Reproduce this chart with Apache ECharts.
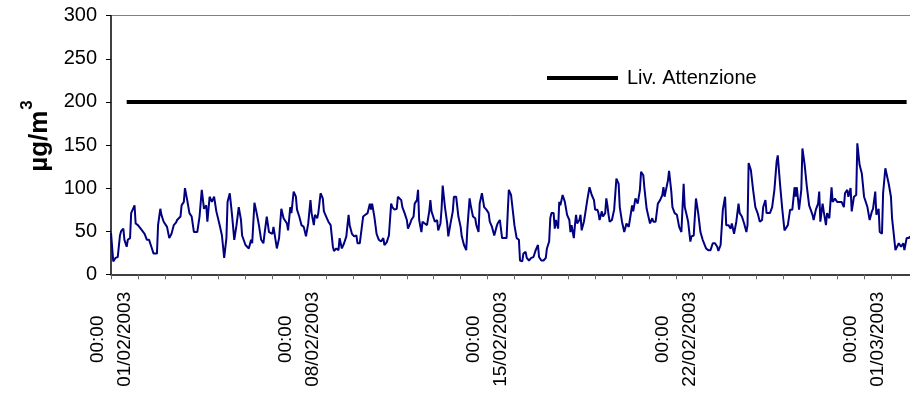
<!DOCTYPE html>
<html>
<head>
<meta charset="utf-8">
<script src="https://cdn.jsdelivr.net/npm/echarts@6/dist/echarts.min.js"></script>
<style>html,body{margin:0;padding:0;background:#fff;}#c{width:910px;height:408px;}</style>
</head>
<body>
<div id="c"></div>
<script>
// hours elapsed since 01/02/2003 00:00
var hours = [0,2,4,6,7,8,9,11,12,14,15,17,18,21,22,24,27,30,32,34,36,38,41,42,44,45,47,50,52,54,56,58,59,62,63,65,66,68,70,72,74,77,79,81,83,85,86,88,90,92,94,97,99,101,103,104,106,108,110,112,114,116,117,120,123,125,126,128,130,132,134,136,137,139,141,144,
145,146,148,150,152,154,155,157,158,160,161,163,165,166,168,170,172,174,176,178,179,181,182,184,185,187,189,190,192,194,196,198,199,201,203,204,206,208,210,212,213,215,217,219,220,222,225,227,229,231,232,233,235,237,239,241,243,244,246,248,250,251,253,255,256,259,260,262,264,265,267,268,270,271,273,274,275,277,278,280,282,284,285,
286,288,289,291,292,294,295,296,298,300,301,303,305,306,308,310,312,313,315,317,318,320,321,323,325,326,328,329,331,333,335,337,338,340,342,344,345,347,349,351,353,354,355,357,359,360,362,364,365,367,368,370,371,373,375,377,379,381,382,384,386,388,389,391,392,393,395,396,397,399,400,401,403,405,406,407,409,410,411,413,414,415,416,418,419,420,422,423,425,427,429,
431,432,434,435,436,438,439,441,442,443,444,445,447,449,451,453,454,456,458,460,462,463,465,466,468,470,472,473,475,476,478,481,483,484,486,488,490,492,493,494,497,498,500,501,503,505,507,509,511,512,514,515,517,518,520,522,524,526,528,529,531,533,535,537,539,541,542,544,546,548,549,551,553,554,556,558,559,560,561,563,565,567,568,569,571,
572,573,575,577,579,581,582,584,585,588,590,592,594,595,597,599,601,602,604,606,608,610,611,612,614,616,617,619,621,623,624,626,627,629,631,632,633,635,636,638,639,641,643,644,646,648,650,652,654,655,657,658,660,661,663,665,666,668,670,672,673,675,677,679,680,682,683,685,686,688,689,691,692,694,696,697,698,700,701,703,705,707,708,710,712,713];
var values = [48,15,19,20,22,45,50,53,40,32,40,42,71,80,59,57,52,47,40,40,32,24,24,57,76,69,61,55,42,47,57,60,63,67,80,84,100,86,71,67,49,49,67,98,76,80,61,90,84,90,73,57,45,19,42,84,94,69,40,57,78,63,45,34,30,40,36,83,71,57,40,36,47,67,49,47,
55,57,30,42,76,65,67,59,51,78,71,96,90,75,67,57,55,44,59,86,71,57,69,65,71,94,88,73,67,61,57,32,27,30,28,42,30,36,44,69,57,47,44,45,36,36,67,69,71,82,75,82,67,47,40,38,42,34,37,45,82,78,75,76,90,86,78,71,63,53,59,63,67,82,86,98,63,49,61,59,57,73,86,
73,65,61,63,51,59,76,103,78,59,44,59,73,90,90,67,55,44,34,28,53,88,80,67,65,57,49,82,94,78,75,71,61,55,45,55,59,63,42,42,42,71,98,92,69,57,42,40,16,15,24,26,19,16,19,20,28,34,20,16,16,19,30,38,65,71,71,53,63,53,84,80,92,84,82,69,63,49,57,42,57,69,59,63,69,51,61,69,86,101,92,
86,75,75,71,63,73,67,71,88,80,69,61,63,75,111,105,78,61,49,59,55,63,80,73,88,82,98,119,115,100,76,59,65,61,61,82,86,92,101,90,109,120,96,78,71,69,55,49,105,78,67,61,38,44,45,88,71,49,40,40,30,28,28,36,36,32,27,34,75,90,57,57,53,59,47,61,63,82,71,67,59,49,57,129,121,
123,98,78,71,61,63,78,86,71,71,78,98,131,138,105,76,51,49,57,75,75,101,90,101,75,98,146,127,101,80,82,69,63,75,82,96,61,82,73,57,71,65,101,84,88,84,84,84,78,94,98,90,100,73,90,92,152,127,117,90,90,78,63,73,76,96,69,76,49,47,94,123,121,105,90,65,53,28,28,36,32,36,28,42,42,44];
// attention level line
var limitHours = [14, 710];
var limitValues = [200, 200];
// axis labels
var tickLabels = ['00:00\n01/02/2003','00:00\n08/02/2003','00:00\n15/02/2003','00:00\n22/02/2003','00:00\n01/03/2003'];
var yTicks = [0,50,100,150,200,250,300];
var seriesName = 'NO2';
var limitName = 'Liv. Attenzione';

var mainData = hours.map(function(h,i){return [h, values[i]];});
var limitData = limitHours.map(function(h,i){return [h, limitValues[i]];});

var chart = echarts.init(document.getElementById('c'), null, {renderer:'canvas'});
var FONT = '"Liberation Sans", Arial, sans-serif';
var splitColors = yTicks.map(function(v){return v === 300 ? '#808080' : 'rgba(0,0,0,0)';});
chart.setOption({
  animation: false,
  backgroundColor: '#fff',
  grid: {left: 111, right: 0, top: 15.7, bottom: 133.7, containLabel: false},
  legend: {
    data: [{name: limitName, icon: 'rect'}],
    left: 542, top: 63,
    itemWidth: 71, itemHeight: 4,
    textStyle: {fontFamily: FONT, fontSize: 20, color: '#000', padding: [0,0,0,4]}
  },
  xAxis: {
    type: 'value', min: 0, max: 713, interval: 24,
    axisLine: {show: true, onZero: false, lineStyle: {color: '#000', width: 1.5}},
    axisTick: {show: true, inside: false, length: 5, lineStyle: {color: '#666'}},
    splitLine: {show: false},
    axisLabel: {
      rotate: 90, align: 'center', verticalAlign: 'middle', margin: 65,
      fontFamily: FONT, fontSize: 19, color: '#000', lineHeight: 27, padding: [0,0,6,0],
      showMinLabel: true, showMaxLabel: false,
      formatter: function(v){ return (v % 168 === 0) ? tickLabels[v/168] : ''; }
    }
  },
  yAxis: {
    type: 'value', min: 0, max: 300, interval: 50,
    name: '{b|µg/m}{s|3}', nameLocation: 'middle', nameGap: 58, nameRotate: 90,
    nameTextStyle: {
      fontFamily: FONT, fontSize: 26, fontWeight: 'bold', color: '#000', padding: [0,0,0,18],
      rich: {
        b: {fontFamily: FONT, fontSize: 26, fontWeight: 'bold', color: '#000', lineHeight: 34, verticalAlign: 'bottom'},
        s: {fontFamily: FONT, fontSize: 17, fontWeight: 'bold', color: '#000', lineHeight: 34, verticalAlign: 'top', padding: [0,0,12,1]}
      }
    },
    axisLine: {show: true, lineStyle: {color: '#000', width: 1.5}},
    axisTick: {show: true, inside: false, length: 5, lineStyle: {color: '#000'}},
    splitLine: {show: true, lineStyle: {color: splitColors, width: 1}},
    axisLabel: {fontFamily: FONT, fontSize: 20, color: '#000', margin: 14}
  },
  series: [
    {name: seriesName, type: 'line', data: mainData, symbol: 'none',
     lineStyle: {color: '#000080', width: 2}, itemStyle: {color: '#000080'}, z: 3},
    {name: limitName, type: 'line', data: limitData, symbol: 'none',
     lineStyle: {color: '#000', width: 4}, itemStyle: {color: '#000'}, z: 4}
  ]
});
</script>
</body>
</html>
